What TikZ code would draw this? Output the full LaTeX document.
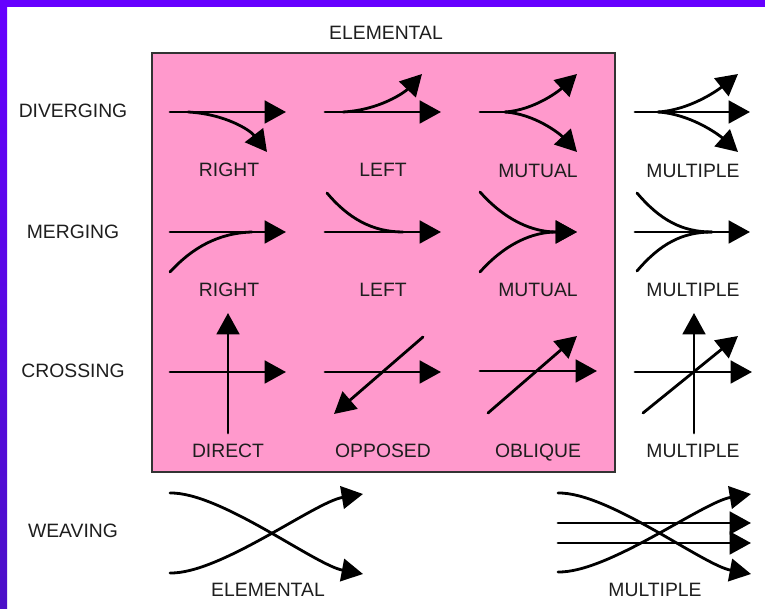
\documentclass[tikz,border=0pt]{standalone}
\usepackage{fontspec}
\setmainfont{Liberation Sans}
\usepackage{tikz}
\usetikzlibrary{arrows.meta,positioning}
\usepackage{xcolor}
\definecolor{flowpink}{RGB}{255,153,204}
\definecolor{framepurple}{RGB}{102,0,255}
\definecolor{framedark}{RGB}{75,16,200}
\definecolor{inkgray}{RGB}{30,30,30}

\begin{document}
\begin{tikzpicture}[
    x=0.75pt,y=-0.75pt,
    lbl/.style={font=\fontsize{14.5}{16}\selectfont,text=inkgray,inner sep=0pt,
                text height=10.4pt,text depth=0pt},
    flow/.style={line width=2.1pt,line cap=round},
    arr/.style={flow,-{Triangle[length=16pt,width=17pt]}},
  ]
    \useasboundingbox (0,0) rectangle (765,609);
    \fill[white] (0,0) rectangle (765,609);
    % frame
    \fill[framepurple] (0,0) rectangle (765,7);
    \shade[top color=framepurple,bottom color=framedark] (0,0) rectangle (7,609);
    % elemental box
    \draw[fill=flowpink,draw=black!80,line width=1pt] (152,53) rectangle (615,472);
    \node[lbl] (elem) at (386,33) {ELEMENTAL};

    % row titles
    \node[lbl] (div) at (73,111) {DIVERGING};
    \node[lbl] (mer) at (73,232) {MERGING};
    \node[lbl] (cro) at (73,371) {CROSSING};
    \node[lbl] (wea) at (73,531) {WEAVING};

    % diverging
    \draw[arr] (170,112) -- (286,112);
    \draw[arr] (188,112) .. controls (225,114) and (250,130) .. (267,152);
    \draw[arr] (325,112) -- (441,112);
    \draw[arr] (343,112) .. controls (380,110) and (405,92) .. (422,74);
    \draw[flow] (480,112) -- (505,112);
    \draw[arr] (505,112) .. controls (535,110) and (560,90) .. (577,74);
    \draw[arr] (505,112) .. controls (535,114) and (560,134) .. (577,152);
    \draw[arr] (635,112) -- (750,112);
    \draw[arr] (658,112) .. controls (690,110) and (718,90) .. (738,74);
    \draw[arr] (658,112) .. controls (690,114) and (718,134) .. (738,152);
    \node[lbl] (dr) at (229,170) {RIGHT};
    \node[lbl] (dl) at (383,170) {LEFT};
    \node[lbl] (dm) at (538,171) {MUTUAL};
    \node[lbl] (dx) at (693,171) {MULTIPLE};

    % merging
    \draw[arr] (170,232) -- (286,232);
    \draw[flow] (170,272) .. controls (192,248) and (218,233) .. (252,232);
    \draw[arr] (325,232) -- (441,232);
    \draw[flow] (327,193) .. controls (348,218) and (372,232) .. (403,232);
    \draw[arr] (480,192) .. controls (505,220) and (532,232) .. (577,232);
    \draw[arr] (480,272) .. controls (505,244) and (532,232) .. (577,232);
    \draw[arr] (635,232) -- (750,232);
    \draw[flow] (637,193) .. controls (660,220) and (682,232) .. (712,232);
    \draw[flow] (637,271) .. controls (660,244) and (682,232) .. (712,232);
    \node[lbl] (mr) at (229,290) {RIGHT};
    \node[lbl] (ml) at (383,290) {LEFT};
    \node[lbl] (mm) at (538,290) {MUTUAL};
    \node[lbl] (mx) at (693,290) {MULTIPLE};

    % crossing
    \draw[arr] (170,372) -- (286,372);
    \draw[arr] (228,433) -- (228,313);
    \draw[arr] (325,372) -- (441,372);
    \draw[arr] (423,337) -- (334,414);
    \draw[arr] (480,371) -- (597,371);
    \draw[arr] (488,413) -- (577,336);
    \draw[arr] (635,372) -- (752,372);
    \draw[arr] (694,433) -- (694,313);
    \draw[arr] (643,413) -- (738,336);
    \node[lbl] (cd) at (228,451) {DIRECT};
    \node[lbl] (co) at (383,451) {OPPOSED};
    \node[lbl] (cq) at (538,451) {OBLIQUE};
    \node[lbl] (cx) at (693,451) {MULTIPLE};

    % weaving
    \draw[arr] (170,493) .. controls (220,492) and (315,565) .. (363,574);
    \draw[arr] (170,573) .. controls (220,574) and (315,502) .. (363,494);
    \draw[arr] (558,493) .. controls (608,492) and (703,565) .. (751,574);
    \draw[arr] (558,572) .. controls (608,573) and (703,502) .. (751,494);
    \draw[arr] (558,523) -- (751,523);
    \draw[arr] (558,543) -- (751,543);
    \node[lbl] (we) at (268,590) {ELEMENTAL};
    \node[lbl] (wx) at (655,590) {MULTIPLE};
  \end{tikzpicture}
\end{document}
